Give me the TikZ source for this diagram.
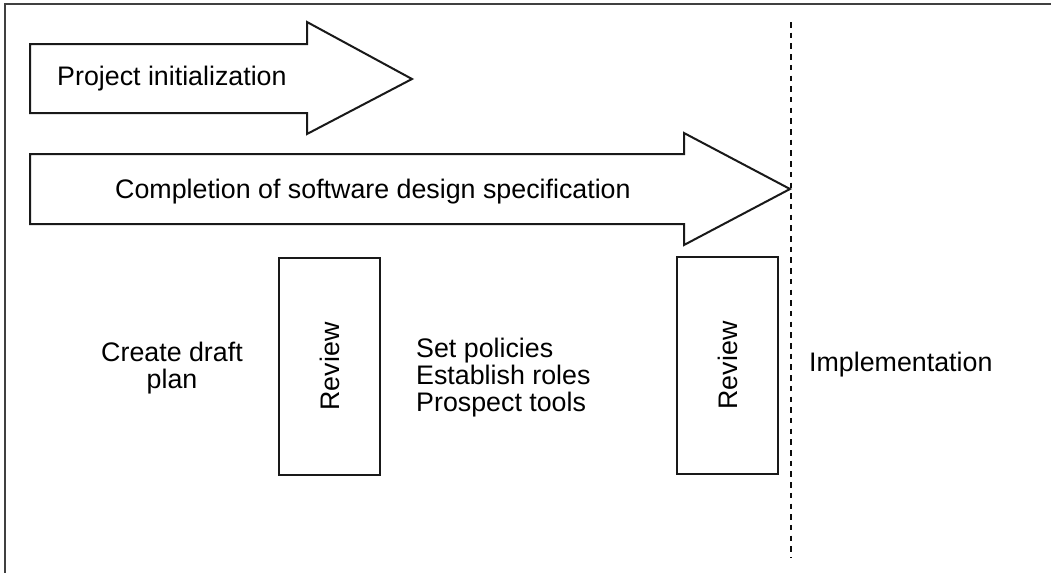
\documentclass[tikz,border=0pt]{standalone}
\usepackage{fontspec}
\setmainfont{Liberation Sans}
\begin{document}
\begin{tikzpicture}[x=1pt,y=-1pt,
  shape line/.style={draw=black!90,line width=2pt,line join=miter,fill=white},
  lbl/.style={inner sep=0pt,font=\fontsize{26.8}{27}\selectfont},
  reviewbox/.style={draw=black!90,line width=2pt,minimum width=101pt,minimum height=217pt,inner sep=0pt},
  divider/.style={line width=2.2pt,dash pattern=on 5.5pt off 5.2pt,black!95}]
\useasboundingbox (0,0) rectangle (1051,573);
% frame (top and left)
\draw[line width=1.8pt,black!75] (1051,4) -- (5,4) -- (5,573);
% arrow 1
\draw[shape line] (30,44) -- (307,44) -- (307,22) -- (412,79) -- (307,134) -- (307,113) -- (30,113) -- cycle;
\node[lbl,anchor=base west] (a1) at (57,85) {Project initialization};
% arrow 2
\draw[shape line] (30,154) -- (684,154) -- (684,133) -- (790,189) -- (684,245) -- (684,224) -- (30,224) -- cycle;
\node[lbl,anchor=base west] (a2) at (115,198) {Completion of software design specification};
% dashed divider
\coordinate (dtop) at (791,22);
\coordinate (dbot) at (791,558);
\draw[divider] (dtop) -- (dbot);
% review boxes
\node[reviewbox] (r1) at (329.5,366.5) {};
\node[lbl,rotate=90] (r1t) at (r1.center) {Review};
\node[reviewbox] (r2) at (727.5,365.5) {};
\node[lbl,rotate=90] (r2t) at (r2.center) {Review};
% texts (base anchor = last line's baseline)
\node[lbl,anchor=base,align=center] (draft) at (172,388) {Create draft\\plan};
\node[lbl,anchor=base west,align=left] (tasks) at (416,411) {Set policies\\Establish roles\\Prospect tools};
\node[lbl,anchor=base west] (impl) at (809,371) {Implementation};
\end{tikzpicture}
\end{document}
